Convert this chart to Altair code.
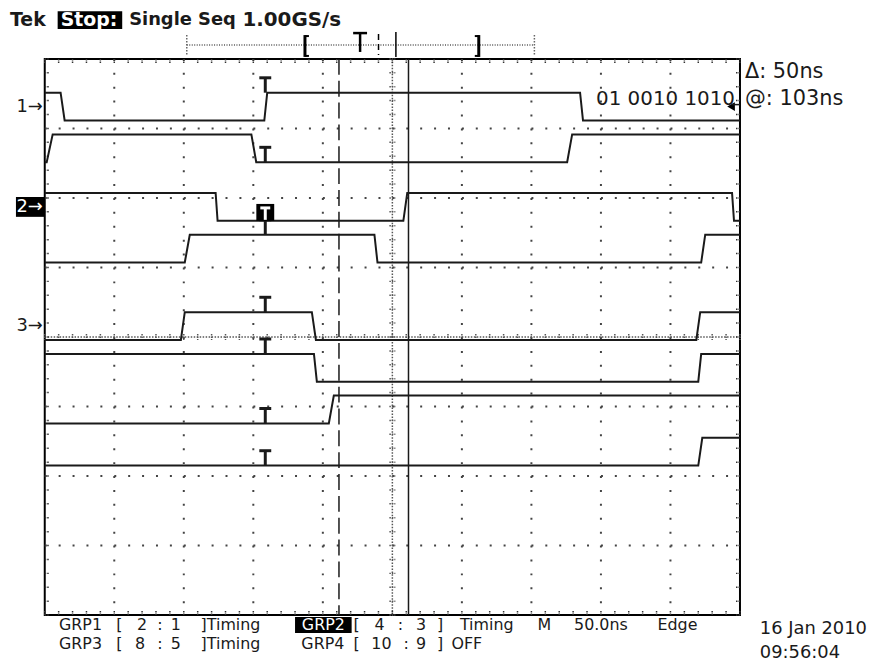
import altair as alt
import pandas as pd

NS_PER_DIV = 50          # M 50.0ns
SCREEN_NS = 500          # 10 horizontal divisions
N_DIV_Y = 8              # 8 vertical divisions

# logic traces: low level (divisions from top), initial state, edges (start ns, end ns)
trace_low = [0.886, 1.486, 2.329, 2.929, 4.043, 4.643, 5.243, 5.85]
trace_init = [1, 0, 1, 0, 0, 1, 0, 0]
trace_edges = [
    [(11.4, 14.3), (157.9, 160.0), (385.0, 387.1)],
    [(1.4, 5.7), (148.6, 152.1), (375.7, 379.3)],
    [(122.9, 124.3), (257.9, 260.7), (494.3, 495.7)],
    [(100.7, 104.3), (237.1, 239.3), (472.1, 475.0)],
    [(97.9, 100.7), (192.1, 195.0), (468.6, 471.4)],
    [(193.6, 195.7), (470.0, 472.1)],
    [(204.3, 207.9)],
    [(470.0, 472.9)],
]
SWING = 0.4                       # high level is 0.4 div above low

group_labels = ["1", "2", "3"]
group_first_trace = [0, 2, 4]
SELECTED_GROUP = 1                # GRP2 highlighted

TRIGGER_NS = 158.6
CURSOR_AT = 103                   # "@: 103ns" (after trigger)
CURSOR_DELTA = 50                 # "Δ: 50ns"

RECORD_NS = 1000                  # record length shown in the record view
WINDOW_START_NS = 340             # screen start inside the record

# ---------------- helpers ----------------
PXX = NS_PER_DIV / 70.0           # ns per pixel
PXY = 1 / 70.0                    # div per pixel
INK = "#1a1a1a"
FONT = "DejaVu Sans"

xs = alt.Scale(domain=[0, SCREEN_NS], nice=False, zero=False)
ys = alt.Scale(domain=[0, N_DIV_Y], nice=False, zero=False, reverse=True)


def X(f):
    return alt.X(f, type="quantitative", scale=xs, axis=None)


def Y(f):
    return alt.Y(f, type="quantitative", scale=ys, axis=None)


def rules(df, **style):
    return alt.Chart(df).mark_rule(**style).encode(x=X("x"), x2="x2:Q", y=Y("y"), y2="y2:Q")


def label(txt, px, py, size=18, color=INK, align="left", weight="normal"):
    return alt.Chart(pd.DataFrame({"s": [txt]})).mark_text(
        align=align, baseline="middle", fontSize=size, font=FONT,
        fontWeight=weight, color=color
    ).encode(text="s:N", x=alt.value(px), y=alt.value(py))


def box(x0, x1, y0, y1):
    return alt.Chart(pd.DataFrame({"a": [0]})).mark_rect(color="#000").encode(
        x=alt.value(x0), x2=alt.value(x1), y=alt.value(y0), y2=alt.value(y1))


# ---------------- graticule ----------------
major_t = [NS_PER_DIV * k for k in range(1, 10) if k != 5]
major_d = [k for k in range(1, N_DIV_Y) if k != 4]
minor_t = [k * NS_PER_DIV / 5 for k in range(51)]
minor_d = [k / 5 for k in range(41)]
CX, CY = SCREEN_NS / 2, N_DIV_Y / 2

grid_v = pd.DataFrame({"x": major_t, "x2": major_t, "y": 0, "y2": N_DIV_Y})
grid_h = pd.DataFrame({"x": 0, "x2": SCREEN_NS, "y": major_d, "y2": major_d})
center = pd.DataFrame({"x": [CX, 0], "x2": [CX, SCREEN_NS], "y": [0, CY], "y2": [N_DIV_Y, CY]})

tl_t, tl_d = 4 * PXX, 4 * PXY
frame_ticks = pd.DataFrame(
    [{"x": t, "x2": t, "y": 0, "y2": tl_d} for t in minor_t]
    + [{"x": t, "x2": t, "y": N_DIV_Y, "y2": N_DIV_Y - tl_d} for t in minor_t]
    + [{"x": 0, "x2": tl_t, "y": d, "y2": d} for d in minor_d]
    + [{"x": SCREEN_NS, "x2": SCREEN_NS - tl_t, "y": d, "y2": d} for d in minor_d]
)
ct_t, ct_d = 3 * PXX, 3 * PXY
center_ticks = pd.DataFrame(
    [{"x": CX - ct_t, "x2": CX + ct_t, "y": d, "y2": d} for d in minor_d]
    + [{"x": t, "x2": t, "y": CY - ct_d, "y2": CY + ct_d} for t in minor_t]
)

grid_layer = rules(grid_v, color="#444", strokeWidth=2, strokeDash=[2, 12])
gridh_layer = rules(grid_h, color="#444", strokeWidth=2, strokeDash=[2, 12])
center_layer = rules(center, color="#555", strokeWidth=1.5, strokeDash=[1.5, 1.5])
ftick_layer = rules(frame_ticks, color="#333", strokeWidth=1.5, strokeDash=[1.5, 1])
ctick_layer = rules(center_ticks, color="#555", strokeWidth=1.5, strokeDash=[1.5, 1])

# ---------------- waveforms ----------------
rows = []
trig_state = []
for i, (low, s, edges) in enumerate(zip(trace_low, trace_init, trace_edges)):
    def lvl(st, low=low):
        return low - SWING * st
    rows.append({"trace": i, "t": 0, "y": lvl(s), "o": len(rows)})
    st_trig = s
    for a, b in edges:
        rows.append({"trace": i, "t": a, "y": lvl(s), "o": len(rows)})
        s = 1 - s
        rows.append({"trace": i, "t": b, "y": lvl(s), "o": len(rows)})
        if a <= TRIGGER_NS:
            st_trig = s
    rows.append({"trace": i, "t": SCREEN_NS, "y": lvl(s), "o": len(rows)})
    trig_state.append(lvl(st_trig))
wave = pd.DataFrame(rows)

wave_layer = alt.Chart(wave).mark_line(color=INK, strokeWidth=2, interpolate="linear").encode(
    x=X("t"), y=Y("y"), detail="trace:N", order="o:Q")

# trigger "T" markers
T_H = 15 * PXY
T_W = 6 * PXX
stems = pd.DataFrame({"x": TRIGGER_NS, "x2": TRIGGER_NS,
                      "y": trig_state, "y2": [v - T_H for v in trig_state]})
bars = pd.DataFrame({"x": TRIGGER_NS - T_W, "x2": TRIGGER_NS + T_W,
                     "y": [v - T_H for v in trig_state], "y2": [v - T_H for v in trig_state]})
stem_layer = rules(stems, color=INK, strokeWidth=3)
bar_layer = rules(bars, color=INK, strokeWidth=3)

sel = group_first_trace[SELECTED_GROUP]
sl = trig_state[sel]
hb = pd.DataFrame({"x": [TRIGGER_NS - 9 * PXX], "x2": [TRIGGER_NS + 9 * PXX],
                   "y": [sl - 17 * PXY], "y2": [sl]})
hbox_layer = alt.Chart(hb).mark_rect(color="#000").encode(x=X("x"), x2="x2:Q", y=Y("y"), y2="y2:Q")
hstem = pd.DataFrame({"x": [TRIGGER_NS], "x2": [TRIGGER_NS], "y": [sl - 1 * PXY], "y2": [sl - 13 * PXY]})
hbar = pd.DataFrame({"x": [TRIGGER_NS - 5 * PXX], "x2": [TRIGGER_NS + 5 * PXX],
                     "y": [sl - 13 * PXY], "y2": [sl - 13 * PXY]})
hstem_layer = rules(hstem, color="#fff", strokeWidth=3)
hbar_layer = rules(hbar, color="#fff", strokeWidth=3)

# cursors
c2 = TRIGGER_NS + CURSOR_AT
c1 = c2 - CURSOR_DELTA
cur_dash = rules(pd.DataFrame({"x": [c1], "x2": [c1], "y": [0], "y2": [N_DIV_Y]}),
                 color=INK, strokeWidth=1.5, strokeDash=[16, 6])
cur_solid = rules(pd.DataFrame({"x": [c2], "x2": [c2], "y": [0], "y2": [N_DIV_Y]}),
                  color=INK, strokeWidth=1.5)

# group markers on the left
gm = pd.DataFrame({"s": [g + "\u2192" for g in group_labels],
                   "y": [trace_low[i] - SWING / 2 for i in group_first_trace]})
gm_plain = gm.drop(index=SELECTED_GROUP)
gm_sel = gm.loc[[SELECTED_GROUP]].copy()
gm_sel["y0"] = gm_sel["y"] - 10 * PXY
gm_sel["y1"] = gm_sel["y"] + 10 * PXY
gm_layer = alt.Chart(gm_plain).mark_text(align="right", baseline="middle", fontSize=18,
                                         font=FONT, color=INK).encode(
    text="s:N", x=alt.value(-2), y=Y("y"))
gm_box = alt.Chart(gm_sel).mark_rect(color="#000").encode(
    x=alt.value(-29), x2=alt.value(0), y=Y("y0"), y2="y1:Q")
gm_sel_layer = alt.Chart(gm_sel).mark_text(align="right", baseline="middle", fontSize=18,
                                           font=FONT, color="#fff").encode(
    text="s:N", x=alt.value(-2), y=Y("y"))

# bus marker on the right edge (group 1 level)
g1 = trace_low[0] - SWING / 2
bus_tri = alt.Chart(pd.DataFrame({"x": [SCREEN_NS - 9 * PXX], "y": [g1]})).mark_point(
    shape="triangle-left", filled=True, size=80, color="#000", opacity=1).encode(x=X("x"), y=Y("y"))
bus_line = rules(pd.DataFrame({"x": [SCREEN_NS - 8 * PXX], "x2": [SCREEN_NS],
                               "y": [g1 - 2 * PXY], "y2": [g1 - 2 * PXY]}), color=INK, strokeWidth=1.5)

# record view above the graticule
REC_LEFT = (188 - 45) * PXX
REC_SCALE = 0.25


def rec(t):
    return REC_LEFT + REC_SCALE * t


rec_line = alt.Chart(pd.DataFrame({"x": [rec(0)], "x2": [rec(RECORD_NS)]})).mark_rule(
    color="#555", strokeWidth=1.5, strokeDash=[1, 1.5]).encode(x=X("x"), x2="x2:Q", y=alt.value(-14))
rec_caps = alt.Chart(pd.DataFrame({"x": [rec(0), rec(RECORD_NS)]})).mark_rule(
    color="#666", strokeWidth=1.5, strokeDash=[1.5, 1.5]).encode(
    x=X("x"), y=alt.value(-24), y2=alt.value(-4))
bl, br = rec(WINDOW_START_NS), rec(WINDOW_START_NS + SCREEN_NS)
brk_v = alt.Chart(pd.DataFrame({"x": [bl, br]})).mark_rule(color="#000", strokeWidth=3).encode(
    x=X("x"), y=alt.value(-24), y2=alt.value(-2))
serif = 4 * PXX
brk_s = alt.Chart(pd.DataFrame({"x": [bl, bl, br - serif, br - serif],
                                "x2": [bl + serif, bl + serif, br, br],
                                "yy": [-23, -3, -23, -3]})).mark_rule(color="#000", strokeWidth=2).encode(
    x=X("x"), x2="x2:Q", y=alt.Y("yy:Q", scale=None, axis=None))
rt = rec(WINDOW_START_NS + TRIGGER_NS)
rec_T_stem = alt.Chart(pd.DataFrame({"x": [rt]})).mark_rule(color="#000", strokeWidth=2.5).encode(
    x=X("x"), y=alt.value(-27), y2=alt.value(-7))
rec_T_bar = alt.Chart(pd.DataFrame({"x": [rt - 7 * PXX], "x2": [rt + 7 * PXX]})).mark_rule(
    color="#000", strokeWidth=2.5).encode(x=X("x"), x2="x2:Q", y=alt.value(-26))
rec_c1 = alt.Chart(pd.DataFrame({"x": [rec(WINDOW_START_NS + c1)]})).mark_rule(
    color="#000", strokeWidth=1.5, strokeDash=[6, 4]).encode(x=X("x"), y=alt.value(-25), y2=alt.value(-4))
rec_c2 = alt.Chart(pd.DataFrame({"x": [rec(WINDOW_START_NS + c2)]})).mark_rule(
    color="#000", strokeWidth=1.5).encode(x=X("x"), y=alt.value(-27), y2=alt.value(-2))

# ---------------- texts ----------------
TOP_Y = -39
texts = [
    label("Tek", -35, TOP_Y, size=19, weight="bold"),
    box(13, 78, -48, -30),
    label("Stop:", 16, TOP_Y, size=19, weight="bold", color="#fff"),
    label("Single Seq", 85, TOP_Y, size=18, weight="bold"),
    label("1.00GS/s", 199, TOP_Y, size=20, weight="bold"),
    label("\u0394: 50ns", 705, 13, size=21),
    label("@: 103ns", 705, 40, size=21),
    label("01 0010 1010", 695, 40, size=20, align="right"),
    label("16 Jan 2010", 720, 574, size=18),
    label("09:56:04", 720, 598, size=18),
]

# status lines: (text, centre x in px from the graticule's left edge)
L1_Y, L2_Y = 570, 589
BSIZE = 16
line1 = [("GRP1", 36), ("[", 75), ("2", 98), (":", 116), ("1", 132), ("]Timing", 187),
         ("[", 314), ("4", 337), (":", 358), ("3", 379), ("]", 398), ("Timing", 445),
         ("M", 503), ("50.0ns", 560), ("Edge", 637)]
line2 = [("GRP3", 36), ("[", 75), ("8", 96), (":", 116), ("5", 132), ("]Timing", 187),
         ("GRP4", 280), ("[", 314), ("10", 339), (":", 364), ("9", 379), ("]", 398), ("OFF", 425)]
for s, px in line1:
    texts.append(label(s, px, L1_Y, size=BSIZE, align="center"))
for s, px in line2:
    texts.append(label(s, px, L2_Y, size=BSIZE, align="center"))
texts.append(box(252, 309, L1_Y - 8, L1_Y + 8))
texts.append(label("GRP2", 280.5, L1_Y, size=BSIZE, color="#fff", align="center"))

chart = alt.layer(
    grid_layer, gridh_layer, center_layer, ctick_layer, ftick_layer,
    cur_dash, cur_solid, wave_layer, stem_layer, bar_layer,
    hbox_layer, hstem_layer, hbar_layer,
    gm_layer, gm_box, gm_sel_layer, bus_tri, bus_line,
    rec_line, rec_caps, brk_v, brk_s, rec_T_stem, rec_T_bar, rec_c1, rec_c2,
    *texts
).properties(
    width=700, height=560,
    autosize=alt.AutoSizeParams(type="none"),
    padding={"left": 37, "top": 49, "right": 144, "bottom": 48},
    background="white",
).configure_view(stroke="#000", strokeWidth=2)

chart.save("out.html", embed_options={"renderer": "svg", "actions": False})
